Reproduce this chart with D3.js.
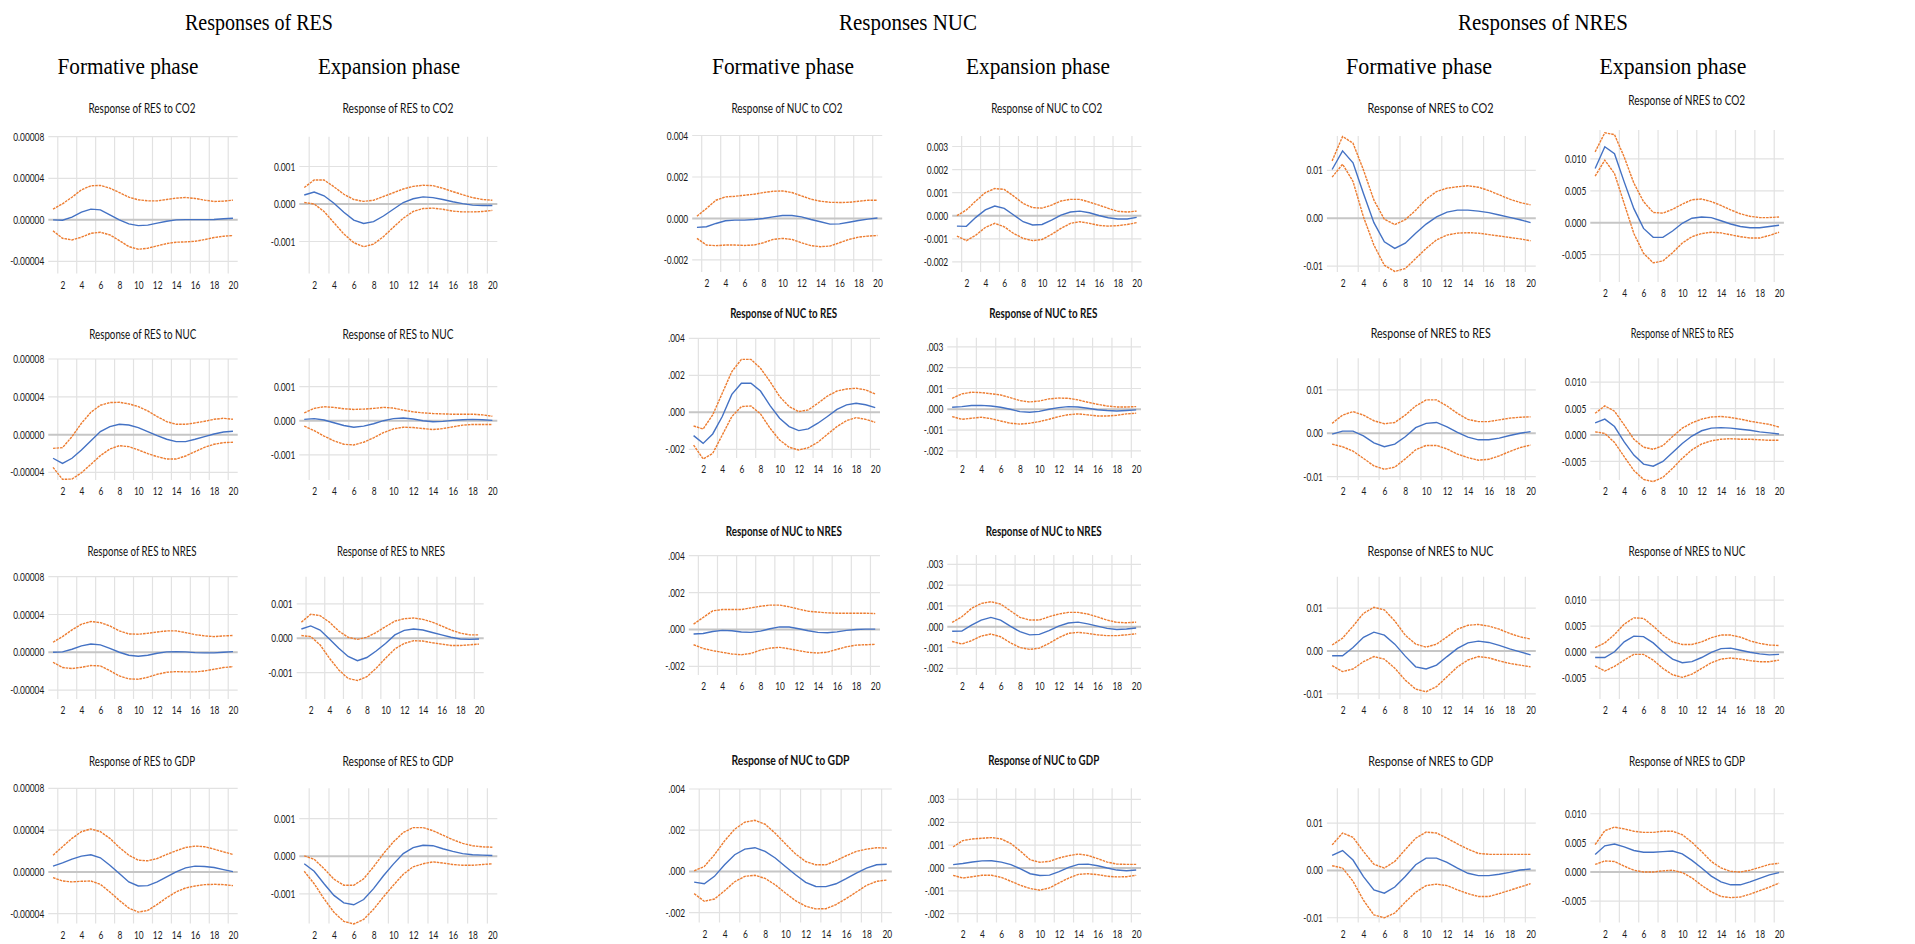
<!DOCTYPE html>
<html>
<head>
<meta charset="utf-8">
<script src="https://cdn.jsdelivr.net/npm/d3@7/dist/d3.min.js"></script>
<style>
  html, body { margin: 0; padding: 0; background: #ffffff; }
  svg { display: block; }
</style>
</head>
<body>
<svg id="chart" width="1915" height="944"></svg>
<script>
// Impulse responses over a 20-period horizon: upper band, response, lower band.
const steps = d3.range(1, 21);
const stepLabels = [2, 4, 6, 8, 10, 12, 14, 16, 18, 20];

// ---- Responses of RES, formative phase ----
const res_co2_f_hi  = [1.03e-5,1.54e-5,2.18e-5,2.89e-5,3.28e-5,3.31e-5,3.05e-5,2.63e-5,2.18e-5,1.93e-5,1.83e-5,1.83e-5,1.96e-5,2.09e-5,2.15e-5,2.06e-5,1.90e-5,1.77e-5,1.80e-5,1.90e-5];
const res_co2_f_irf = [0,-0.03e-5,0.26e-5,0.74e-5,1.03e-5,0.96e-5,0.48e-5,0,-0.39e-5,-0.55e-5,-0.51e-5,-0.32e-5,-0.13e-5,0,0.02e-5,0.02e-5,0.02e-5,0.03e-5,0.10e-5,0.16e-5];
const res_co2_f_lo  = [-1.06e-5,-1.77e-5,-1.93e-5,-1.67e-5,-1.29e-5,-1.19e-5,-1.45e-5,-1.99e-5,-2.57e-5,-2.83e-5,-2.73e-5,-2.50e-5,-2.28e-5,-2.15e-5,-2.12e-5,-2.06e-5,-1.90e-5,-1.70e-5,-1.57e-5,-1.51e-5];

const res_nuc_f_hi  = [-1.45e-5,-1.38e-5,-0.21e-5,1.20e-5,2.37e-5,3.11e-5,3.39e-5,3.42e-5,3.25e-5,2.97e-5,2.51e-5,1.91e-5,1.38e-5,1.09e-5,1.09e-5,1.24e-5,1.41e-5,1.62e-5,1.73e-5,1.62e-5];
const res_nuc_f_irf = [-2.50e-5,-3.04e-5,-2.50e-5,-1.62e-5,-0.64e-5,0.32e-5,0.85e-5,1.09e-5,1.02e-5,0.74e-5,0.32e-5,-0.11e-5,-0.49e-5,-0.74e-5,-0.74e-5,-0.49e-5,-0.21e-5,0.07e-5,0.28e-5,0.35e-5];
const res_nuc_f_lo  = [-3.46e-5,-4.73e-5,-4.70e-5,-4.03e-5,-3.14e-5,-2.22e-5,-1.52e-5,-1.17e-5,-1.27e-5,-1.62e-5,-2.01e-5,-2.33e-5,-2.58e-5,-2.58e-5,-2.26e-5,-1.80e-5,-1.34e-5,-1.02e-5,-0.85e-5,-0.81e-5];

const res_nres_f_hi  = [1.06e-5,1.66e-5,2.37e-5,2.97e-5,3.25e-5,3.14e-5,2.79e-5,2.26e-5,1.94e-5,1.91e-5,2.01e-5,2.15e-5,2.26e-5,2.26e-5,2.08e-5,1.87e-5,1.73e-5,1.66e-5,1.73e-5,1.77e-5];
const res_nres_f_irf = [0,0.04e-5,0.32e-5,0.67e-5,0.88e-5,0.78e-5,0.42e-5,0,-0.32e-5,-0.42e-5,-0.32e-5,-0.11e-5,0.04e-5,0.07e-5,0.04e-5,-0.04e-5,-0.07e-5,-0.07e-5,0,0.07e-5];
const res_nres_f_lo  = [-1.06e-5,-1.62e-5,-1.73e-5,-1.59e-5,-1.41e-5,-1.45e-5,-1.94e-5,-2.51e-5,-2.82e-5,-2.86e-5,-2.65e-5,-2.33e-5,-2.12e-5,-2.05e-5,-2.08e-5,-2.08e-5,-1.98e-5,-1.80e-5,-1.62e-5,-1.52e-5];

const res_gdp_f_hi  = [1.60e-5,2.41e-5,3.21e-5,3.85e-5,4.11e-5,3.85e-5,3.21e-5,2.34e-5,1.60e-5,1.12e-5,1.06e-5,1.28e-5,1.67e-5,2.02e-5,2.34e-5,2.47e-5,2.41e-5,2.18e-5,1.92e-5,1.67e-5];
const res_gdp_f_irf = [0.55e-5,0.87e-5,1.22e-5,1.51e-5,1.64e-5,1.35e-5,0.64e-5,-0.16e-5,-0.96e-5,-1.35e-5,-1.32e-5,-0.96e-5,-0.48e-5,0,0.38e-5,0.55e-5,0.51e-5,0.42e-5,0.22e-5,0.03e-5];
const res_gdp_f_lo  = [-0.55e-5,-0.87e-5,-0.96e-5,-0.90e-5,-0.87e-5,-1.19e-5,-1.92e-5,-2.73e-5,-3.46e-5,-3.85e-5,-3.69e-5,-3.11e-5,-2.47e-5,-1.92e-5,-1.54e-5,-1.35e-5,-1.22e-5,-1.19e-5,-1.22e-5,-1.32e-5];

// ---- Responses of RES, expansion phase ----
const res_co2_e_hi  = [0.44e-3,0.64e-3,0.64e-3,0.46e-3,0.26e-3,0.12e-3,0.07e-3,0.10e-3,0.20e-3,0.30e-3,0.40e-3,0.47e-3,0.50e-3,0.49e-3,0.42e-3,0.33e-3,0.25e-3,0.17e-3,0.12e-3,0.10e-3];
const res_co2_e_irf = [0.24e-3,0.32e-3,0.22e-3,0.02e-3,-0.22e-3,-0.43e-3,-0.52e-3,-0.47e-3,-0.32e-3,-0.14e-3,0.04e-3,0.14e-3,0.19e-3,0.17e-3,0.12e-3,0.06e-3,0.01e-3,-0.03e-3,-0.04e-3,-0.04e-3];
const res_co2_e_lo  = [0.04e-3,0,-0.20e-3,-0.50e-3,-0.80e-3,-1.03e-3,-1.14e-3,-1.07e-3,-0.87e-3,-0.62e-3,-0.38e-3,-0.20e-3,-0.12e-3,-0.11e-3,-0.14e-3,-0.19e-3,-0.21e-3,-0.21e-3,-0.20e-3,-0.17e-3];

const res_nuc_e_hi  = [0.23e-3,0.36e-3,0.41e-3,0.39e-3,0.35e-3,0.33e-3,0.34e-3,0.36e-3,0.39e-3,0.37e-3,0.31e-3,0.26e-3,0.23e-3,0.21e-3,0.20e-3,0.19e-3,0.19e-3,0.19e-3,0.17e-3,0.13e-3];
const res_nuc_e_irf = [0.04e-3,0.06e-3,0.02e-3,-0.06e-3,-0.14e-3,-0.19e-3,-0.16e-3,-0.09e-3,0,0.06e-3,0.08e-3,0.05e-3,0,-0.03e-3,-0.02e-3,0.01e-3,0.03e-3,0.04e-3,0.03e-3,0.01e-3];
const res_nuc_e_lo  = [-0.16e-3,-0.29e-3,-0.45e-3,-0.59e-3,-0.69e-3,-0.71e-3,-0.63e-3,-0.50e-3,-0.35e-3,-0.24e-3,-0.19e-3,-0.20e-3,-0.23e-3,-0.26e-3,-0.23e-3,-0.18e-3,-0.13e-3,-0.11e-3,-0.11e-3,-0.11e-3];

const res_nres_e_hi  = [0.47e-3,0.70e-3,0.66e-3,0.47e-3,0.21e-3,0.03e-3,-0.03e-3,0.03e-3,0.17e-3,0.34e-3,0.50e-3,0.57e-3,0.59e-3,0.55e-3,0.47e-3,0.36e-3,0.24e-3,0.15e-3,0.10e-3,0.10e-3];
const res_nres_e_irf = [0.27e-3,0.36e-3,0.24e-3,-0.02e-3,-0.29e-3,-0.53e-3,-0.65e-3,-0.56e-3,-0.37e-3,-0.15e-3,0.10e-3,0.23e-3,0.27e-3,0.24e-3,0.17e-3,0.10e-3,0.03e-3,-0.02e-3,-0.03e-3,-0.02e-3];
const res_nres_e_lo  = [0.08e-3,0.05e-3,-0.19e-3,-0.58e-3,-0.92e-3,-1.17e-3,-1.23e-3,-1.12e-3,-0.87e-3,-0.58e-3,-0.31e-3,-0.15e-3,-0.07e-3,-0.08e-3,-0.13e-3,-0.17e-3,-0.21e-3,-0.21e-3,-0.19e-3,-0.17e-3];

const res_gdp_e_hi  = [0.01e-3,-0.08e-3,-0.33e-3,-0.61e-3,-0.77e-3,-0.77e-3,-0.60e-3,-0.28e-3,0.07e-3,0.38e-3,0.63e-3,0.76e-3,0.76e-3,0.68e-3,0.56e-3,0.44e-3,0.34e-3,0.28e-3,0.25e-3,0.24e-3];
const res_gdp_e_irf = [-0.20e-3,-0.40e-3,-0.73e-3,-1.04e-3,-1.24e-3,-1.29e-3,-1.15e-3,-0.86e-3,-0.52e-3,-0.21e-3,0.07e-3,0.23e-3,0.29e-3,0.28e-3,0.20e-3,0.13e-3,0.07e-3,0.04e-3,0.03e-3,0.02e-3];
const res_gdp_e_lo  = [-0.40e-3,-0.73e-3,-1.13e-3,-1.49e-3,-1.73e-3,-1.80e-3,-1.68e-3,-1.41e-3,-1.08e-3,-0.77e-3,-0.48e-3,-0.28e-3,-0.20e-3,-0.15e-3,-0.18e-3,-0.22e-3,-0.24e-3,-0.24e-3,-0.22e-3,-0.20e-3];

// ---- Responses of NUC, formative phase ----
const nuc_co2_f_hi  = [0.11e-3,0.48e-3,0.88e-3,1.04e-3,1.07e-3,1.12e-3,1.17e-3,1.25e-3,1.31e-3,1.33e-3,1.25e-3,1.09e-3,0.93e-3,0.83e-3,0.78e-3,0.77e-3,0.78e-3,0.83e-3,0.88e-3,0.88e-3];
const nuc_co2_f_irf = [-0.43e-3,-0.40e-3,-0.24e-3,-0.11e-3,-0.08e-3,-0.08e-3,-0.05e-3,0,0.08e-3,0.14e-3,0.14e-3,0.08e-3,-0.05e-3,-0.16e-3,-0.27e-3,-0.26e-3,-0.18e-3,-0.10e-3,-0.03e-3,0.02e-3];
const nuc_co2_f_lo  = [-0.96e-3,-1.28e-3,-1.31e-3,-1.28e-3,-1.28e-3,-1.30e-3,-1.28e-3,-1.17e-3,-1.01e-3,-0.96e-3,-1.01e-3,-1.17e-3,-1.31e-3,-1.36e-3,-1.33e-3,-1.17e-3,-1.01e-3,-0.90e-3,-0.85e-3,-0.82e-3];

const nuc_res_f_hi  = [-0.74e-3,-0.90e-3,-0.14e-3,1.03e-3,2.20e-3,2.86e-3,2.86e-3,2.38e-3,1.66e-3,0.85e-3,0.31e-3,0.04e-3,0.13e-3,0.49e-3,0.88e-3,1.15e-3,1.26e-3,1.30e-3,1.21e-3,0.99e-3];
const nuc_res_f_irf = [-1.26e-3,-1.68e-3,-1.17e-3,-0.23e-3,0.97e-3,1.57e-3,1.57e-3,1.15e-3,0.36e-3,-0.32e-3,-0.77e-3,-0.99e-3,-0.90e-3,-0.59e-3,-0.23e-3,0.16e-3,0.40e-3,0.49e-3,0.41e-3,0.25e-3];
const nuc_res_f_lo  = [-1.77e-3,-2.52e-3,-2.22e-3,-1.23e-3,-0.23e-3,0.31e-3,0.34e-3,-0.09e-3,-0.86e-3,-1.50e-3,-1.89e-3,-2.04e-3,-1.91e-3,-1.62e-3,-1.19e-3,-0.77e-3,-0.45e-3,-0.29e-3,-0.38e-3,-0.54e-3];

const nuc_nres_f_hi  = [0.29e-3,0.65e-3,1.01e-3,1.08e-3,1.08e-3,1.08e-3,1.17e-3,1.26e-3,1.32e-3,1.32e-3,1.23e-3,1.10e-3,0.99e-3,0.94e-3,0.90e-3,0.88e-3,0.88e-3,0.88e-3,0.88e-3,0.86e-3];
const nuc_nres_f_irf = [-0.25e-3,-0.22e-3,-0.11e-3,-0.05e-3,-0.07e-3,-0.14e-3,-0.16e-3,-0.09e-3,0.04e-3,0.14e-3,0.13e-3,0.04e-3,-0.07e-3,-0.16e-3,-0.18e-3,-0.13e-3,-0.05e-3,0,0.02e-3,0.02e-3];
const nuc_nres_f_lo  = [-0.83e-3,-1.03e-3,-1.15e-3,-1.24e-3,-1.33e-3,-1.37e-3,-1.30e-3,-1.12e-3,-1.01e-3,-0.97e-3,-1.05e-3,-1.15e-3,-1.24e-3,-1.28e-3,-1.23e-3,-1.08e-3,-0.94e-3,-0.85e-3,-0.83e-3,-0.81e-3];

const nuc_gdp_f_hi  = [0.03e-3,0.24e-3,0.81e-3,1.48e-3,2.05e-3,2.39e-3,2.48e-3,2.29e-3,1.85e-3,1.34e-3,0.85e-3,0.48e-3,0.32e-3,0.32e-3,0.52e-3,0.76e-3,0.97e-3,1.08e-3,1.15e-3,1.13e-3];
const nuc_gdp_f_irf = [-0.52e-3,-0.60e-3,-0.24e-3,0.32e-3,0.81e-3,1.08e-3,1.15e-3,0.97e-3,0.65e-3,0.24e-3,-0.16e-3,-0.53e-3,-0.73e-3,-0.74e-3,-0.60e-3,-0.35e-3,-0.08e-3,0.16e-3,0.32e-3,0.35e-3];
const nuc_gdp_f_lo  = [-1.08e-3,-1.45e-3,-1.34e-3,-0.94e-3,-0.50e-3,-0.24e-3,-0.19e-3,-0.34e-3,-0.65e-3,-1.05e-3,-1.42e-3,-1.69e-3,-1.82e-3,-1.81e-3,-1.61e-3,-1.32e-3,-1.00e-3,-0.68e-3,-0.48e-3,-0.42e-3];

// ---- Responses of NUC, expansion phase ----
const nuc_co2_e_hi  = [0,0.25e-3,0.64e-3,1.00e-3,1.18e-3,1.14e-3,0.85e-3,0.53e-3,0.35e-3,0.33e-3,0.46e-3,0.64e-3,0.71e-3,0.71e-3,0.59e-3,0.46e-3,0.32e-3,0.19e-3,0.16e-3,0.20e-3];
const nuc_co2_e_irf = [-0.45e-3,-0.46e-3,-0.07e-3,0.25e-3,0.42e-3,0.32e-3,0.03e-3,-0.26e-3,-0.40e-3,-0.38e-3,-0.19e-3,0.03e-3,0.16e-3,0.20e-3,0.13e-3,0.01e-3,-0.09e-3,-0.14e-3,-0.14e-3,-0.07e-3];
const nuc_co2_e_lo  = [-0.88e-3,-1.08e-3,-0.84e-3,-0.51e-3,-0.33e-3,-0.48e-3,-0.77e-3,-0.98e-3,-1.08e-3,-1.03e-3,-0.81e-3,-0.55e-3,-0.33e-3,-0.26e-3,-0.33e-3,-0.42e-3,-0.45e-3,-0.43e-3,-0.38e-3,-0.30e-3];

const nuc_res_e_hi  = [0.53e-3,0.74e-3,0.82e-3,0.80e-3,0.75e-3,0.69e-3,0.56e-3,0.42e-3,0.35e-3,0.40e-3,0.50e-3,0.54e-3,0.53e-3,0.45e-3,0.34e-3,0.24e-3,0.16e-3,0.11e-3,0.11e-3,0.13e-3];
const nuc_res_e_irf = [0.10e-3,0.13e-3,0.18e-3,0.19e-3,0.16e-3,0.10e-3,0,-0.11e-3,-0.14e-3,-0.10e-3,0,0.08e-3,0.13e-3,0.11e-3,0.05e-3,-0.02e-3,-0.06e-3,-0.08e-3,-0.06e-3,-0.03e-3];
const nuc_res_e_lo  = [-0.35e-3,-0.48e-3,-0.43e-3,-0.38e-3,-0.45e-3,-0.56e-3,-0.67e-3,-0.71e-3,-0.67e-3,-0.59e-3,-0.48e-3,-0.35e-3,-0.26e-3,-0.22e-3,-0.27e-3,-0.32e-3,-0.32e-3,-0.29e-3,-0.22e-3,-0.19e-3];

const nuc_nres_e_hi  = [0.21e-3,0.48e-3,0.88e-3,1.12e-3,1.20e-3,1.09e-3,0.77e-3,0.45e-3,0.32e-3,0.32e-3,0.48e-3,0.61e-3,0.69e-3,0.69e-3,0.61e-3,0.47e-3,0.32e-3,0.21e-3,0.19e-3,0.22e-3];
const nuc_nres_e_irf = [-0.22e-3,-0.21e-3,0.08e-3,0.32e-3,0.45e-3,0.32e-3,0.03e-3,-0.24e-3,-0.39e-3,-0.37e-3,-0.19e-3,0.03e-3,0.18e-3,0.22e-3,0.14e-3,0.03e-3,-0.08e-3,-0.13e-3,-0.11e-3,-0.06e-3];
const nuc_nres_e_lo  = [-0.71e-3,-0.83e-3,-0.67e-3,-0.45e-3,-0.35e-3,-0.48e-3,-0.77e-3,-1.00e-3,-1.09e-3,-1.03e-3,-0.80e-3,-0.53e-3,-0.32e-3,-0.27e-3,-0.32e-3,-0.39e-3,-0.43e-3,-0.43e-3,-0.39e-3,-0.34e-3];

const nuc_gdp_e_hi  = [0.92e-3,1.20e-3,1.27e-3,1.30e-3,1.33e-3,1.27e-3,1.07e-3,0.73e-3,0.36e-3,0.25e-3,0.29e-3,0.44e-3,0.54e-3,0.61e-3,0.55e-3,0.41e-3,0.26e-3,0.17e-3,0.16e-3,0.16e-3];
const nuc_gdp_e_irf = [0.15e-3,0.20e-3,0.26e-3,0.31e-3,0.32e-3,0.26e-3,0.15e-3,-0.04e-3,-0.25e-3,-0.33e-3,-0.31e-3,-0.16e-3,0.03e-3,0.16e-3,0.17e-3,0.10e-3,0,-0.09e-3,-0.12e-3,-0.09e-3];
const nuc_gdp_e_lo  = [-0.32e-3,-0.44e-3,-0.38e-3,-0.32e-3,-0.32e-3,-0.41e-3,-0.58e-3,-0.76e-3,-0.90e-3,-0.97e-3,-0.87e-3,-0.65e-3,-0.44e-3,-0.28e-3,-0.25e-3,-0.29e-3,-0.36e-3,-0.39e-3,-0.38e-3,-0.32e-3];

// ---- Responses of NRES, formative phase ----
const nres_co2_f_hi  = [1.20e-2,1.71e-2,1.57e-2,1.01e-2,0.38e-2,-0.02e-2,-0.13e-2,-0.03e-2,0.17e-2,0.40e-2,0.56e-2,0.63e-2,0.66e-2,0.68e-2,0.65e-2,0.58e-2,0.49e-2,0.40e-2,0.33e-2,0.28e-2];
const nres_co2_f_irf = [1.02e-2,1.41e-2,1.16e-2,0.52e-2,-0.09e-2,-0.49e-2,-0.63e-2,-0.52e-2,-0.31e-2,-0.12e-2,0.03e-2,0.13e-2,0.17e-2,0.17e-2,0.15e-2,0.12e-2,0.07e-2,0.02e-2,-0.03e-2,-0.09e-2];
const nres_co2_f_lo  = [0.86e-2,1.13e-2,0.77e-2,0.03e-2,-0.56e-2,-0.98e-2,-1.11e-2,-1.05e-2,-0.84e-2,-0.63e-2,-0.45e-2,-0.35e-2,-0.31e-2,-0.30e-2,-0.31e-2,-0.34e-2,-0.37e-2,-0.40e-2,-0.43e-2,-0.47e-2];

const nres_res_f_hi  = [0.23e-2,0.42e-2,0.50e-2,0.42e-2,0.29e-2,0.22e-2,0.25e-2,0.42e-2,0.63e-2,0.77e-2,0.77e-2,0.63e-2,0.46e-2,0.32e-2,0.27e-2,0.27e-2,0.31e-2,0.35e-2,0.37e-2,0.38e-2];
const nres_res_f_irf = [-0.02e-2,0.05e-2,0.05e-2,-0.06e-2,-0.22e-2,-0.31e-2,-0.25e-2,-0.08e-2,0.13e-2,0.23e-2,0.25e-2,0.15e-2,0.02e-2,-0.09e-2,-0.15e-2,-0.15e-2,-0.11e-2,-0.05e-2,0,0.04e-2];
const nres_res_f_lo  = [-0.25e-2,-0.31e-2,-0.41e-2,-0.58e-2,-0.75e-2,-0.83e-2,-0.78e-2,-0.59e-2,-0.38e-2,-0.28e-2,-0.28e-2,-0.36e-2,-0.48e-2,-0.56e-2,-0.62e-2,-0.60e-2,-0.52e-2,-0.42e-2,-0.33e-2,-0.27e-2];

const nres_nuc_f_hi  = [0.14e-2,0.30e-2,0.58e-2,0.88e-2,1.02e-2,0.96e-2,0.70e-2,0.37e-2,0.16e-2,0.09e-2,0.16e-2,0.33e-2,0.51e-2,0.60e-2,0.62e-2,0.58e-2,0.51e-2,0.41e-2,0.33e-2,0.28e-2];
const nres_nuc_f_irf = [-0.11e-2,-0.11e-2,0.08e-2,0.32e-2,0.44e-2,0.37e-2,0.16e-2,-0.12e-2,-0.37e-2,-0.42e-2,-0.33e-2,-0.13e-2,0.06e-2,0.19e-2,0.23e-2,0.20e-2,0.13e-2,0.05e-2,-0.02e-2,-0.09e-2];
const nres_nuc_f_lo  = [-0.34e-2,-0.48e-2,-0.42e-2,-0.25e-2,-0.13e-2,-0.19e-2,-0.40e-2,-0.68e-2,-0.89e-2,-0.95e-2,-0.83e-2,-0.60e-2,-0.37e-2,-0.21e-2,-0.13e-2,-0.16e-2,-0.23e-2,-0.29e-2,-0.33e-2,-0.37e-2];

const nres_gdp_f_hi  = [0.54e-2,0.79e-2,0.70e-2,0.40e-2,0.13e-2,0.05e-2,0.19e-2,0.44e-2,0.68e-2,0.81e-2,0.79e-2,0.68e-2,0.56e-2,0.45e-2,0.36e-2,0.34e-2,0.34e-2,0.34e-2,0.34e-2,0.34e-2];
const nres_gdp_f_irf = [0.32e-2,0.42e-2,0.22e-2,-0.13e-2,-0.41e-2,-0.48e-2,-0.35e-2,-0.13e-2,0.12e-2,0.26e-2,0.26e-2,0.17e-2,0.05e-2,-0.06e-2,-0.11e-2,-0.11e-2,-0.08e-2,-0.04e-2,0.01e-2,0.03e-2];
const nres_gdp_f_lo  = [0.10e-2,0.05e-2,-0.23e-2,-0.63e-2,-0.94e-2,-1.00e-2,-0.90e-2,-0.67e-2,-0.46e-2,-0.32e-2,-0.29e-2,-0.32e-2,-0.41e-2,-0.49e-2,-0.55e-2,-0.55e-2,-0.49e-2,-0.42e-2,-0.35e-2,-0.28e-2];

// ---- Responses of NRES, expansion phase ----
const nres_co2_e_hi  = [1.11e-2,1.41e-2,1.38e-2,1.03e-2,0.62e-2,0.33e-2,0.16e-2,0.15e-2,0.21e-2,0.29e-2,0.36e-2,0.37e-2,0.33e-2,0.27e-2,0.20e-2,0.14e-2,0.10e-2,0.08e-2,0.08e-2,0.09e-2];
const nres_co2_e_irf = [0.85e-2,1.19e-2,1.08e-2,0.64e-2,0.22e-2,-0.09e-2,-0.23e-2,-0.23e-2,-0.13e-2,-0.01e-2,0.07e-2,0.09e-2,0.08e-2,0.03e-2,-0.02e-2,-0.06e-2,-0.08e-2,-0.08e-2,-0.06e-2,-0.04e-2];
const nres_co2_e_lo  = [0.73e-2,0.98e-2,0.77e-2,0.30e-2,-0.17e-2,-0.48e-2,-0.63e-2,-0.60e-2,-0.47e-2,-0.32e-2,-0.22e-2,-0.17e-2,-0.15e-2,-0.16e-2,-0.19e-2,-0.22e-2,-0.24e-2,-0.24e-2,-0.20e-2,-0.15e-2];

const nres_res_e_hi  = [0.41e-2,0.55e-2,0.45e-2,0.19e-2,-0.08e-2,-0.23e-2,-0.27e-2,-0.20e-2,-0.03e-2,0.13e-2,0.23e-2,0.30e-2,0.34e-2,0.35e-2,0.33e-2,0.30e-2,0.26e-2,0.23e-2,0.20e-2,0.15e-2];
const nres_res_e_irf = [0.23e-2,0.30e-2,0.16e-2,-0.13e-2,-0.38e-2,-0.55e-2,-0.59e-2,-0.50e-2,-0.33e-2,-0.16e-2,-0.02e-2,0.08e-2,0.13e-2,0.14e-2,0.13e-2,0.11e-2,0.09e-2,0.06e-2,0.04e-2,0.02e-2];
const nres_res_e_lo  = [0.06e-2,0.03e-2,-0.14e-2,-0.41e-2,-0.67e-2,-0.84e-2,-0.88e-2,-0.80e-2,-0.63e-2,-0.44e-2,-0.28e-2,-0.17e-2,-0.11e-2,-0.08e-2,-0.07e-2,-0.08e-2,-0.08e-2,-0.09e-2,-0.10e-2,-0.10e-2];

const nres_nuc_e_hi  = [0.09e-2,0.18e-2,0.34e-2,0.54e-2,0.66e-2,0.65e-2,0.50e-2,0.33e-2,0.20e-2,0.15e-2,0.15e-2,0.20e-2,0.28e-2,0.33e-2,0.33e-2,0.29e-2,0.22e-2,0.17e-2,0.14e-2,0.13e-2];
const nres_nuc_e_irf = [-0.10e-2,-0.10e-2,0.01e-2,0.20e-2,0.31e-2,0.30e-2,0.18e-2,0.01e-2,-0.13e-2,-0.20e-2,-0.18e-2,-0.10e-2,0,0.07e-2,0.08e-2,0.04e-2,0,-0.03e-2,-0.05e-2,-0.04e-2];
const nres_nuc_e_lo  = [-0.26e-2,-0.36e-2,-0.27e-2,-0.15e-2,-0.04e-2,-0.04e-2,-0.15e-2,-0.31e-2,-0.43e-2,-0.48e-2,-0.42e-2,-0.31e-2,-0.20e-2,-0.13e-2,-0.11e-2,-0.13e-2,-0.16e-2,-0.18e-2,-0.18e-2,-0.15e-2];

const nres_gdp_e_hi  = [0.47e-2,0.71e-2,0.77e-2,0.74e-2,0.70e-2,0.68e-2,0.68e-2,0.70e-2,0.70e-2,0.64e-2,0.51e-2,0.35e-2,0.18e-2,0.07e-2,0.01e-2,0,0.03e-2,0.08e-2,0.13e-2,0.15e-2];
const nres_gdp_e_irf = [0.30e-2,0.45e-2,0.48e-2,0.43e-2,0.37e-2,0.34e-2,0.34e-2,0.35e-2,0.36e-2,0.31e-2,0.20e-2,0.07e-2,-0.07e-2,-0.17e-2,-0.22e-2,-0.22e-2,-0.17e-2,-0.11e-2,-0.05e-2,-0.01e-2];
const nres_gdp_e_lo  = [0.13e-2,0.19e-2,0.18e-2,0.10e-2,0.03e-2,0,0,0.02e-2,0.03e-2,-0.01e-2,-0.10e-2,-0.23e-2,-0.34e-2,-0.42e-2,-0.44e-2,-0.43e-2,-0.38e-2,-0.32e-2,-0.26e-2,-0.19e-2];

// Axis tick values per panel family
const ticksResF  = [-0.00004, 0, 0.00004, 0.00008];
const ticksResE  = [-0.001, 0, 0.001];
const ticksNucF  = [-0.002, 0, 0.002, 0.004];
const ticksNucE  = [-0.002, -0.001, 0, 0.001, 0.002, 0.003];
const ticksNresF = [-0.01, 0, 0.01];
const ticksNresE = [-0.005, 0, 0.005, 0.010];

// Section headings
const groupTitles = ["Responses of RES", "Responses NUC", "Responses of NRES"];
const phaseTitles = ["Formative phase", "Expansion phase"];

// ---------------- drawing ----------------
const loc = d3.formatLocale({decimal: ".", thousands: ",", grouping: [3], currency: ["", ""], minus: "-"});
const f5 = loc.format(".5f"), f3 = loc.format(".3f"), f2 = loc.format(".2f");
const f3bare = v => f3(v).replace("0.", ".");

const SANS = "Lato, 'Open Sans', sans-serif";
const SERIF = "'Liberation Serif', 'DejaVu Serif', serif";
const BLUE = "#4472c4", ORANGE = "#ed7d31";
const CONDENSE = 0.76;   // horizontal squeeze applied to the small sans labels

// Layout of the 24 panels (pixel frames of each plot area, title width)
const panels = [
  // RES formative
  {t:"Response of RES to CO2",  tx:142, ty:108, tw:107, x0:48.3, x1:237.7, top:136.7, bot:273.5, lo:-5.16e-5, hi:8e-5, ticks:ticksResF, fmt:f5, s:[res_co2_f_hi,res_co2_f_irf,res_co2_f_lo]},
  {t:"Response of RES to NUC",  tx:142.7, ty:334, tw:107, x0:48.3, x1:237.7, top:359, bot:480, lo:-4.8e-5, hi:8e-5, ticks:ticksResF, fmt:f5, s:[res_nuc_f_hi,res_nuc_f_irf,res_nuc_f_lo]},
  {t:"Response of RES to NRES", tx:142, ty:551, tw:109, x0:48.3, x1:237.7, top:576.7, bot:699, lo:-4.95e-5, hi:8e-5, ticks:ticksResF, fmt:f5, s:[res_nres_f_hi,res_nres_f_irf,res_nres_f_lo]},
  {t:"Response of RES to GDP",  tx:142, ty:761, tw:106, x0:48.3, x1:237.7, top:788.3, bot:923.5, lo:-4.94e-5, hi:8e-5, ticks:ticksResF, fmt:f5, s:[res_gdp_f_hi,res_gdp_f_irf,res_gdp_f_lo]},
  // RES expansion
  {t:"Response of RES to CO2",  tx:398, ty:108, tw:111, x0:299.3, x1:497.3, top:136.7, bot:273.5, lo:-0.001853, hi:0.001795, ticks:ticksResE, fmt:f3, s:[res_co2_e_hi,res_co2_e_irf,res_co2_e_lo]},
  {t:"Response of RES to NUC",  tx:398, ty:334, tw:111, x0:299.3, x1:497.3, top:358.3, bot:480, lo:-0.001736, hi:0.001827, ticks:ticksResE, fmt:f3, s:[res_nuc_e_hi,res_nuc_e_irf,res_nuc_e_lo]},
  {t:"Response of RES to NRES", tx:391, ty:551, tw:108, x0:296.7, x1:483.7, top:576.7, bot:699, lo:-0.001767, hi:0.001793, ticks:ticksResE, fmt:f3, s:[res_nres_e_hi,res_nres_e_irf,res_nres_e_lo]},
  {t:"Response of RES to GDP",  tx:398, ty:761, tw:111, x0:299.3, x1:497.3, top:788.3, bot:923.5, lo:-0.001787, hi:0.001805, ticks:ticksResE, fmt:f3, s:[res_gdp_e_hi,res_gdp_e_irf,res_gdp_e_lo]},
  // NUC formative
  {t:"Response of NUC to CO2",  tx:787, ty:108, tw:111, x0:692.2, x1:882.2, top:135.5, bot:272, lo:-0.00258, hi:0.004, ticks:ticksNucF, fmt:f3, s:[nuc_co2_f_hi,nuc_co2_f_irf,nuc_co2_f_lo]},
  {t:"Response of NUC to RES",  tx:783.7, ty:313.3, tw:107, bold:true, x0:688.8, x1:880, top:338.3, bot:458, lo:-0.00247, hi:0.004, ticks:ticksNucF, fmt:f3bare, s:[nuc_res_f_hi,nuc_res_f_irf,nuc_res_f_lo]},
  {t:"Response of NUC to NRES", tx:783.8, ty:531.7, tw:116, bold:true, x0:688.8, x1:880, top:555.7, bot:675, lo:-0.00247, hi:0.004, ticks:ticksNucF, fmt:f3bare, s:[nuc_nres_f_hi,nuc_nres_f_irf,nuc_nres_f_lo]},
  {t:"Response of NUC to GDP",  tx:790.5, ty:760.7, tw:118, bold:true, x0:689.1, x1:891.8, top:789, bot:922.5, lo:-0.00248, hi:0.004, ticks:ticksNucF, fmt:f3bare, s:[nuc_gdp_f_hi,nuc_gdp_f_irf,nuc_gdp_f_lo]},
  // NUC expansion
  {t:"Response of NUC to CO2",  tx:1046.7, ty:108, tw:111, x0:952.2, x1:1141.4, top:136, bot:272, lo:-0.00244, hi:0.003456, ticks:ticksNucE, fmt:f3, s:[nuc_co2_e_hi,nuc_co2_e_irf,nuc_co2_e_lo]},
  {t:"Response of NUC to RES",  tx:1043.3, ty:313.3, tw:108, bold:true, x0:947.3, x1:1141, top:337.7, bot:458, lo:-0.00234, hi:0.00344, ticks:ticksNucE, fmt:f3bare, s:[nuc_res_e_hi,nuc_res_e_irf,nuc_res_e_lo]},
  {t:"Response of NUC to NRES", tx:1043.7, ty:531.7, tw:116, bold:true, x0:947.3, x1:1141, top:555, bot:675, lo:-0.00232, hi:0.003447, ticks:ticksNucE, fmt:f3bare, s:[nuc_nres_e_hi,nuc_nres_e_irf,nuc_nres_e_lo]},
  {t:"Response of NUC to GDP",  tx:1043.7, ty:760.7, tw:111, bold:true, x0:948.3, x1:1141, top:788.3, bot:922.5, lo:-0.002384, hi:0.003487, ticks:ticksNucE, fmt:f3bare, s:[nuc_gdp_e_hi,nuc_gdp_e_irf,nuc_gdp_e_lo]},
  // NRES formative
  {t:"Response of NRES to CO2", tx:1430.5, ty:108, tw:126, x0:1326.9, x1:1535.8, top:136, bot:272, lo:-0.01122, hi:0.0172, ticks:ticksNresF, fmt:f2, s:[nres_co2_f_hi,nres_co2_f_irf,nres_co2_f_lo]},
  {t:"Response of NRES to RES", tx:1430.7, ty:333.3, tw:120, x0:1326.9, x1:1535.8, top:358.3, bot:480, lo:-0.01077, hi:0.0173, ticks:ticksNresF, fmt:f2, s:[nres_res_f_hi,nres_res_f_irf,nres_res_f_lo]},
  {t:"Response of NRES to NUC", tx:1430.5, ty:551, tw:126, x0:1326.9, x1:1535.8, top:576.7, bot:699, lo:-0.0112, hi:0.01734, ticks:ticksNresF, fmt:f2, s:[nres_nuc_f_hi,nres_nuc_f_irf,nres_nuc_f_lo]},
  {t:"Response of NRES to GDP", tx:1430.8, ty:761, tw:125, x0:1326.9, x1:1535.8, top:788.3, bot:922.5, lo:-0.011, hi:0.01735, ticks:ticksNresF, fmt:f2, s:[nres_gdp_f_hi,nres_gdp_f_irf,nres_gdp_f_lo]},
  // NRES expansion
  {t:"Response of NRES to CO2", tx:1686.7, ty:100, tw:117, x0:1590.3, x1:1783.9, top:130, bot:282, lo:-0.0093, hi:0.01453, ticks:ticksNresE, fmt:f3, s:[nres_co2_e_hi,nres_co2_e_irf,nres_co2_e_lo]},
  {t:"Response of NRES to RES", tx:1682.3, ty:333.3, tw:103, x0:1590.3, x1:1783.9, top:358.3, bot:480, lo:-0.0085, hi:0.01449, ticks:ticksNresE, fmt:f3, s:[nres_res_e_hi,nres_res_e_irf,nres_res_e_lo]},
  {t:"Response of NRES to NUC", tx:1687, ty:551, tw:117, x0:1590.3, x1:1783.9, top:576, bot:699, lo:-0.00895, hi:0.01462, ticks:ticksNresE, fmt:f3, s:[nres_nuc_e_hi,nres_nuc_e_irf,nres_nuc_e_lo]},
  {t:"Response of NRES to GDP", tx:1687, ty:761, tw:116, x0:1590.3, x1:1783.9, top:788.3, bot:922.5, lo:-0.00867, hi:0.01437, ticks:ticksNresE, fmt:f3, s:[nres_gdp_e_hi,nres_gdp_e_irf,nres_gdp_e_lo]}
];

const svg = d3.select("#chart");

// squeeze a text element horizontally to a given share of its natural width
function condense(sel, factor) {
  sel.each(function () {
    const w = this.getComputedTextLength();
    d3.select(this).attr("textLength", w * factor).attr("lengthAdjust", "spacingAndGlyphs");
  });
}

// Headings
const groupX = [259, 908, 1543], groupW = [148, 138, 170];
const phaseX = [[128, 389], [783, 1038], [1419, 1673]];
const phaseW = [[141, 142], [142, 144], [146, 147]];
groupTitles.forEach((g, i) => {
  svg.append("text").attr("x", groupX[i]).attr("y", 29.5)
    .attr("text-anchor", "middle").attr("font-family", SERIF)
    .attr("font-size", 24).attr("fill", "#000")
    .attr("textLength", groupW[i]).attr("lengthAdjust", "spacingAndGlyphs").text(g);
  phaseTitles.forEach((p, j) => {
    svg.append("text").attr("x", phaseX[i][j]).attr("y", 73.5)
      .attr("text-anchor", "middle").attr("font-family", SERIF)
      .attr("font-size", 24).attr("fill", "#000")
      .attr("textLength", phaseW[i][j]).attr("lengthAdjust", "spacingAndGlyphs").text(p);
  });
});

function drawPanel(p) {
  const g = svg.append("g");
  const x = d3.scaleLinear().domain([0.5, 20.5]).range([p.x0, p.x1]);
  const y = d3.scaleLinear().domain([p.lo, p.hi]).range([p.bot, p.top]);

  // vertical gridlines between every other step
  g.append("g").selectAll("line").data(d3.range(1.5, 20, 2)).join("line")
    .attr("x1", d => x(d)).attr("x2", d => x(d))
    .attr("y1", p.top).attr("y2", p.bot)
    .attr("stroke", "#e2e2e2").attr("stroke-width", 1.2);

  // horizontal gridlines at tick values
  g.append("g").selectAll("line").data(p.ticks.filter(t => t !== 0)).join("line")
    .attr("x1", p.x0).attr("x2", p.x1)
    .attr("y1", d => y(d)).attr("y2", d => y(d))
    .attr("stroke", "#e2e2e2").attr("stroke-width", 1.2);

  // zero line
  g.append("line").attr("x1", p.x0).attr("x2", p.x1)
    .attr("y1", y(0)).attr("y2", y(0))
    .attr("stroke", "#c6c6c6").attr("stroke-width", 2);

  const line = d3.line().x((d, i) => x(steps[i])).y(d => y(d));
  // confidence bands
  [p.s[0], p.s[2]].forEach(band => {
    g.append("path").datum(band).attr("d", line)
      .attr("fill", "none").attr("stroke", ORANGE)
      .attr("stroke-width", 1.4).attr("stroke-dasharray", "2.6,0.9");
  });
  // point response
  g.append("path").datum(p.s[1]).attr("d", line)
    .attr("fill", "none").attr("stroke", BLUE).attr("stroke-width", 1.4);

  // y axis labels
  const ya = g.append("g").attr("transform", `translate(${p.x0},0)`)
    .call(d3.axisLeft(y).tickValues(p.ticks).tickFormat(p.fmt).tickSize(0).tickPadding(4));
  ya.select(".domain").remove();
  const yt = ya.selectAll("text").attr("font-family", SANS).attr("font-size", 11).attr("fill", "#1a1a1a");
  condense(yt, CONDENSE);

  // x axis labels
  const xa = g.append("g").attr("transform", `translate(0,${p.bot})`)
    .call(d3.axisBottom(x).tickValues(stepLabels).tickFormat(d3.format("d")).tickSize(0).tickPadding(7.5));
  xa.select(".domain").remove();
  const xt = xa.selectAll("text").attr("font-family", SANS).attr("font-size", 11).attr("fill", "#1a1a1a");
  condense(xt, CONDENSE);

  // panel title
  g.append("text").attr("x", p.tx).attr("y", p.ty + 4.7)
    .attr("text-anchor", "middle").attr("font-family", SANS)
    .attr("font-size", 13).attr("font-weight", p.bold ? "bold" : "normal")
    .attr("fill", "#111")
    .attr("textLength", p.tw).attr("lengthAdjust", "spacingAndGlyphs").text(p.t);
}

panels.forEach(drawPanel);
</script>
</body>
</html>
